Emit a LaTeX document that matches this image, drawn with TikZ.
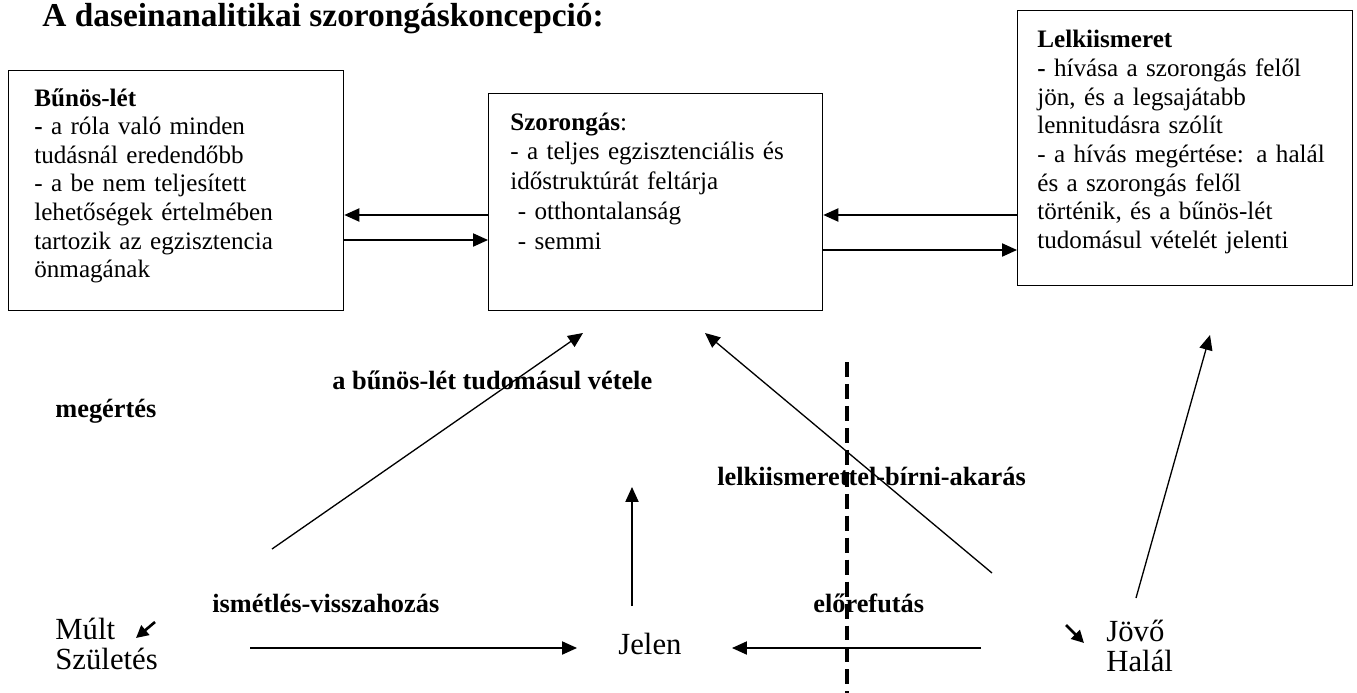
\documentclass[tikz,border=0pt]{standalone}
\usepackage{fontspec}
\setmainfont{Liberation Serif}
\usetikzlibrary{arrows.meta}

\begin{document}
\begin{tikzpicture}[
    x=0.02cm, y=-0.02cm,
    doboz/.style={draw, line width=0.8pt, inner sep=0pt, anchor=north west},
    dobozszoveg/.style={anchor=base west, inner sep=0pt, text width=6.25cm,
                        align=left, font=\fontsize{14.3}{16.3}\selectfont},
    felirat/.style={anchor=base west, inner sep=0pt,
                    font=\fontsize{15}{18}\selectfont\bfseries},
    ido/.style={anchor=base west, inner sep=0pt, text width=3cm, align=left,
                font=\fontsize{17.5}{17.6}\selectfont},
    nyil/.style={line width=0.75pt, -{Triangle[length=8.5pt, width=7.5pt]}},
    kisnyil/.style={line width=1.5pt, -{Triangle[length=7pt, width=7pt]}},
    hatar/.style={line width=1.9pt, dash pattern=on 8.5pt off 4pt}
  ]
    \useasboundingbox (0,0) rectangle (1357,693);
    \node[anchor=base west, inner sep=0pt,
          font=\fontsize{19}{22}\selectfont\bfseries] (cim) at (42,27)
      {A daseinanalitikai szorongáskoncepció:};
    % a harom doboz
    \node[doboz, minimum width=6.7cm, minimum height=4.8cm] (bunos) at (8,70) {};
    \node[dobozszoveg] (bunosSz) at (34,106)
      {\textbf{Bűnös-lét}\\ \textbf{-} a róla való minden\\ tudásnál eredendőbb\\
       - a be nem teljesített\\ lehetőségek értelmében\\ tartozik az egzisztencia\\
       önmagának};
    \node[doboz, minimum width=6.68cm, minimum height=4.34cm] (szorongas) at (488,93) {};
    \node[dobozszoveg, font=\fontsize{14.3}{17}\selectfont] (szorongasSz) at (510,130)
      {\textbf{Szorongás}:\\ - a teljes egzisztenciális és\\ időstruktúrát feltárja\\
       \hspace*{0.3em}- otthontalanság\\ \hspace*{0.3em}- semmi};
    \node[doboz, minimum width=6.7cm, minimum height=5.5cm] (lelkiismeret) at (1017,10) {};
    \node[dobozszoveg] (lelkiismeretSz) at (1037,48)
      {\textbf{Lelkiismeret}\\ \textbf{-} hívása a szorongás felől\\ jön, és a legsajátabb\\
       lennitudásra szólít\\ - a hívás megértése: a halál\\ és a szorongás felől\\
       történik, és a bűnös-lét\\ tudomásul vételét jelenti};
    \draw[nyil] (szorongas.west |- 0,215) -- (bunos.east |- 0,215);
    \draw[nyil] (bunos.east |- 0,240) -- (szorongas.west |- 0,240);
    \draw[nyil] (lelkiismeret.west |- 0,215) -- (szorongas.east |- 0,215);
    \draw[nyil] (szorongas.east |- 0,250) -- (lelkiismeret.west |- 0,250);
    % feliratok
    \node[felirat] (tudomas) at (332,389) {a bűnös-lét tudomásul vétele};
    \node[felirat] (megertes) at (55,417) {megértés};
    \node[felirat] (biras) at (717,485) {lelkiismerettel-bírni-akarás};
    \node[felirat] (ismetles) at (212,612) {ismétlés-visszahozás};
    \node[felirat] (elorefutas) at (813,612) {előrefutás};
    % idodimenziok
    \node[ido] (mult) at (55,639) {Múlt\\ Születés};
    \node[ido] (jelen) at (618,654) {Jelen};
    \node[ido] (jovo) at (1106,641) {Jövő\\ Halál};
    % nyilak szabad vegei
    \coordinate (tudomasA) at (272,549);
    \coordinate (tudomasB) at (583,333);
    \coordinate (jelenA) at (632,606);
    \coordinate (jelenB) at (632,487);
    \coordinate (birasA) at (992,573);
    \coordinate (birasB) at (705,333);
    \coordinate (jovoA) at (1136,598);
    \coordinate (jovoB) at (1210,335);
    \coordinate (ismetlesA) at (250,648);
    \coordinate (ismetlesB) at (577,648);
    \coordinate (elorefutasA) at (981,648);
    \coordinate (elorefutasB) at (732,648);
    \coordinate (multA) at (155,622);
    \coordinate (multB) at (136,638);
    \coordinate (jovoC) at (1066,625);
    \coordinate (jovoD) at (1084,643);
    \coordinate (hatarA) at (847,362);
    \coordinate (hatarB) at (847,693);
    \draw[hatar] (hatarA) -- (hatarB);
    \draw[nyil] (tudomasA) -- (tudomasB);
    \draw[nyil] (jelenA) -- (jelenB);
    \draw[nyil] (birasA) -- (birasB);
    \draw[nyil] (jovoA) -- (jovoB);
    \draw[nyil] (ismetlesA) -- (ismetlesB);
    \draw[nyil] (elorefutasA) -- (elorefutasB);
    \draw[kisnyil] (multA) -- (multB);
    \draw[kisnyil] (jovoC) -- (jovoD);
\end{tikzpicture}
\end{document}
